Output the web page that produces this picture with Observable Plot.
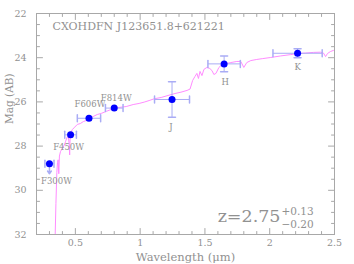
<!DOCTYPE html>
<html><head><meta charset="utf-8">
<script src="https://cdn.jsdelivr.net/npm/d3@7"></script>
<script src="https://cdn.jsdelivr.net/npm/@observablehq/plot@0.6"></script>
<style>html,body{margin:0;padding:0;background:#fff}#chart{width:354px;height:264px}</style>
</head><body><div id="chart"></div>
<script>
// Photometry
const filters = ["F300W","F450W","F606W","F814W","J","H","K"];
const wavelength = [0.30,0.463,0.605,0.80,1.246,1.648,2.215];
const wavelengthErr = [0.035,0.045,0.09,0.068,0.135,0.125,0.19];
const magnitude = [28.8,27.49,26.74,26.28,25.89,24.28,23.80];
const magnitudeErr = [0,0,0,0,0.8,0.36,0.2];
const upperLimit = [true,false,false,false,false,false,false];

// Best-fit SED template
const sedWavelength = [0.343,0.350,0.357,0.362,0.367,0.372,0.377,0.385,0.395,0.405,0.415,0.425,0.435,0.445,0.452,0.456,0.460,0.465,0.477,0.495,0.515,0.538,0.562,0.585,0.608,0.638,0.669,0.70,0.738,0.777,0.80,0.838,0.892,0.946,0.992,1.031,1.069,1.108,1.162,1.215,1.269,1.315,1.362,1.385,1.405,1.423,1.438,1.45,1.462,1.477,1.492,1.515,1.538,1.554,1.569,1.585,1.608,1.631,1.654,1.70,1.746,1.777,1.80,1.823,1.854,1.90,1.946,2.008,2.085,2.162,2.215,2.277,2.338,2.392,2.415,2.431,2.446,2.469,2.492];
const sedMagnitude = [32.3,30.6,29.2,28.75,28.62,29.25,28.45,28.25,28.15,28.05,27.95,27.78,27.62,27.55,27.9,28.4,27.5,27.38,27.25,27.14,27.02,26.98,26.89,26.84,26.76,26.66,26.57,26.52,26.43,26.34,26.30,26.25,26.21,26.12,26.07,26.01,25.94,25.86,25.80,25.71,25.62,25.56,25.48,25.42,25.03,24.85,24.71,24.94,24.62,24.81,24.53,24.44,24.49,24.58,24.76,24.71,24.44,24.31,24.28,24.22,24.17,24.17,24.44,24.22,24.13,24.08,24.04,23.99,23.92,23.86,23.81,23.79,23.76,23.75,23.79,23.95,23.81,23.72,23.67];

// Annotations
const objectName = "CXOHDFN J123651.8+621221";
const zBest = "2.75", zPlus = "+0.13", zMinus = "\u22120.20";

// Axes
const yTicks = [22,24,26,28,30,32];
const yMinor = [22.5,23,23.5,24.5,25,25.5,26.5,27,27.5,28.5,29,29.5,30.5,31,31.5];
const xTicks = [0.5,1,1.5,2,2.5];
const xTickLabels = ["0.5","1","1.5","2","2.5"];
const xMinor = [0.3,0.4,0.6,0.7,0.8,0.9,1.1,1.2,1.3,1.4,1.6,1.7,1.8,1.9,2.1,2.2,2.3,2.4];

const points = filters.map((name, i) => ({name, x: wavelength[i], xerr: wavelengthErr[i], mag: magnitude[i], yerr: magnitudeErr[i], upper: upperLimit[i]}));
const sed = sedWavelength.map((x, i) => ({x, mag: sedMagnitude[i]}));

const frameGray = "#a8a8a8", textGray = "#919191", errColor = "#a9acf5", dotColor = "#0000ff", sedColor = "#ff8cff";
const font = "'DejaVu Serif', serif";

const lineShape = {draw(ctx, l) { ctx.moveTo(0, 0); ctx.lineTo(0, -l); }};
function ticks(data, channel, anchor, rotate, len) {
  return Plot.vector(data, {[channel]: d => d, frameAnchor: anchor, rotate, length: len, anchor: "start", shape: lineShape, stroke: frameGray, strokeWidth: 1});
}

const capsX = points.flatMap(d => [{x: d.x - d.xerr, mag: d.mag}, {x: d.x + d.xerr, mag: d.mag}]);
const withY = points.filter(d => d.yerr > 0);
const capsY = withY.flatMap(d => [{x: d.x, mag: d.mag - d.yerr}, {x: d.x, mag: d.mag + d.yerr}]);

const labelPlacement = {F300W: [7, 17], F450W: [-2, 12], F606W: [1, -14], F814W: [2, -10], J: [-1, 28], H: [1, 18], K: [0, 14]};

const chart = Plot.plot({
  width: 354, height: 264,
  marginLeft: 36, marginRight: 20, marginTop: 13, marginBottom: 30,
  style: {fontFamily: font, fontSize: "9px", background: "white", overflow: "visible"},
  x: {domain: [0.2, 2.5], axis: null},
  y: {domain: [22, 32], reverse: true, axis: null},
  marks: [
    Plot.frame({stroke: frameGray}),
    ticks(xTicks, "x", "bottom", 0, 6),
    ticks(xTicks, "x", "top", 180, 6),
    ticks(xMinor, "x", "bottom", 0, 3),
    ticks(xMinor, "x", "top", 180, 3),
    ticks(yTicks, "y", "left", 90, 6),
    ticks(yTicks, "y", "right", -90, 6),
    ticks(yMinor, "y", "left", 90, 3),
    ticks(yMinor, "y", "right", -90, 3),
    Plot.text(xTicks, {x: d => d, text: (d, i) => xTickLabels[i], frameAnchor: "bottom", lineAnchor: "top", dy: 5, fill: textGray, fontSize: 9.5}),
    Plot.text(yTicks, {y: d => d, text: d => String(d), frameAnchor: "left", textAnchor: "end", dx: -10, fill: textGray, fontSize: 9.5}),
    Plot.text(["Wavelength (\u03bcm)"], {text: d => d, frameAnchor: "bottom", lineAnchor: "bottom", dy: 26, fill: textGray, fontSize: 11.5}),
    Plot.text(["Mag (AB)"], {text: d => d, frameAnchor: "left", rotate: -90, dx: -27, fill: textGray, fontSize: 10.5}),
    Plot.text([objectName], {text: d => d, frameAnchor: "top-left", textAnchor: "start", lineAnchor: "bottom", dx: 16, dy: 16.3, fill: textGray, fontSize: 11}),
    Plot.line(sed, {x: "x", y: "mag", stroke: sedColor, strokeWidth: 1, clip: true}),
    Plot.link(points, {x1: d => d.x - d.xerr, x2: d => d.x + d.xerr, y1: "mag", y2: "mag", stroke: errColor}),
    Plot.vector(capsX, {x: "x", y: "mag", length: 7, rotate: 0, anchor: "middle", shape: lineShape, stroke: errColor}),
    Plot.link(withY, {x1: "x", x2: "x", y1: d => d.mag - d.yerr, y2: d => d.mag + d.yerr, stroke: errColor}),
    Plot.vector(capsY, {x: "x", y: "mag", length: 7, rotate: 90, anchor: "middle", shape: lineShape, stroke: errColor}),
    Plot.arrow(points.filter(d => d.upper), {x1: "x", x2: "x", y1: "mag", y2: d => d.mag + 0.45, stroke: errColor, headLength: 6, headAngle: 70}),
    Plot.dot(points, {x: "x", y: "mag", r: 3.5, fill: dotColor}),
    ...filters.map(f => Plot.text(points.filter(d => d.name === f), {x: "x", y: "mag", text: "name", dx: labelPlacement[f][0], dy: labelPlacement[f][1], fill: textGray, fontSize: 8.5})),
    Plot.text([zBest], {text: d => `z=${d}`, frameAnchor: "bottom-right", textAnchor: "end", lineAnchor: "bottom", dx: -54, dy: -12.3, fill: textGray, fontSize: 17.5}),
    Plot.text([zPlus], {text: d => d, frameAnchor: "bottom-right", textAnchor: "start", lineAnchor: "bottom", dx: -53, dy: -19.7, fill: textGray, fontSize: 10.5}),
    Plot.text([zMinus], {text: d => d, frameAnchor: "bottom-right", textAnchor: "start", lineAnchor: "bottom", dx: -53, dy: -6.7, fill: textGray, fontSize: 10.5})
  ]
});
document.getElementById("chart").appendChild(chart);
</script>
</body></html>
